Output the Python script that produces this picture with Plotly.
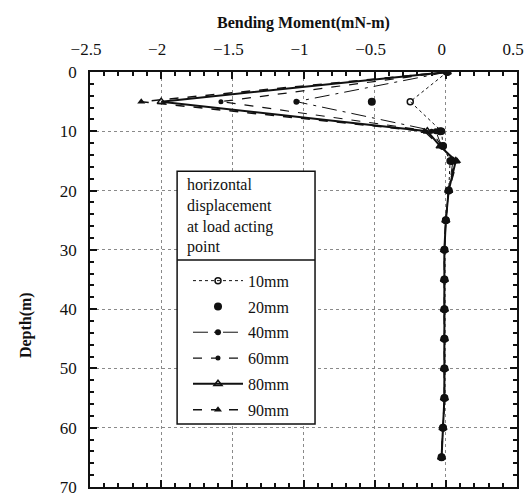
import plotly.graph_objects as go

# Depth of each measurement point along the pile (m)
depth = [0, 5, 10, 12.5, 15, 20, 25, 30, 35, 40, 45, 50, 55, 60, 65]

# Bending moment (mN-m) for each horizontal displacement at the load acting point
m_10mm = [0.01, -0.25, -0.03, -0.02, 0.03, 0.02, 0.0, -0.01, -0.01, -0.01, -0.01, -0.01, -0.01, -0.02, -0.03]
m_20mm = [0.01, -0.52, -0.04, -0.02, 0.04, 0.02, 0.0, -0.01, -0.01, -0.01, -0.01, -0.01, -0.01, -0.02, -0.03]
m_40mm = [0.01, -1.05, -0.07, -0.03, 0.05, 0.02, 0.0, -0.01, -0.01, -0.01, -0.01, -0.01, -0.01, -0.02, -0.03]
m_60mm = [0.01, -1.58, -0.10, -0.03, 0.06, 0.02, 0.0, -0.01, -0.01, -0.01, -0.01, -0.01, -0.01, -0.02, -0.03]
m_80mm = [0.01, -2.00, -0.13, -0.04, 0.07, 0.02, 0.0, -0.01, -0.01, -0.01, -0.01, -0.01, -0.01, -0.02, -0.03]
m_90mm = [0.01, -2.14, -0.15, -0.04, 0.08, 0.02, 0.0, -0.01, -0.01, -0.01, -0.01, -0.01, -0.01, -0.02, -0.03]

x_ticks = [-2.5, -2, -1.5, -1, -0.5, 0, 0.5]
y_ticks = [0, 10, 20, 30, 40, 50, 60, 70]

FONT = "Liberation Serif, Times New Roman, DejaVu Serif, serif"
INK = "#111111"

series = [
    ("10mm", m_10mm, dict(mode="lines+markers", line=dict(dash="dot", width=1),
                          marker=dict(symbol="circle-open", size=6, line=dict(width=1.5)))),
    ("20mm", m_20mm, dict(mode="markers", marker=dict(symbol="circle", size=8))),
    ("40mm", m_40mm, dict(mode="lines+markers", line=dict(dash="longdashdot", width=1),
                          marker=dict(symbol="circle", size=6))),
    ("60mm", m_60mm, dict(mode="lines+markers", line=dict(dash="dash", width=1.2),
                          marker=dict(symbol="circle", size=5))),
    ("80mm", m_80mm, dict(mode="lines+markers", line=dict(dash="solid", width=2),
                          marker=dict(symbol="triangle-up-open", size=7, line=dict(width=1.5)))),
    ("90mm", m_90mm, dict(mode="lines+markers", line=dict(dash="dash", width=1.5),
                          marker=dict(symbol="triangle-up", size=7))),
]

fig = go.Figure()
for i, (name, vals, style) in enumerate(series):
    style = dict(style)
    if "line" in style:
        style["line"] = dict(style["line"], color=INK)
    style["marker"] = dict(style["marker"], color=INK)
    fig.add_trace(go.Scatter(x=vals, y=depth, name=name, legendgroup=f"g{i}", **style))

axis_common = dict(
    showline=True, linecolor=INK, linewidth=1.5, mirror="allticks",
    ticks="inside", ticklen=7, tickcolor=INK, tickwidth=1.5,
    showgrid=True, gridcolor="#8a8a8a", griddash="dot", gridwidth=1,
    zeroline=False, automargin=False,
    tickfont=dict(family=FONT, size=17, color=INK),
)

fig.update_xaxes(
    side="top", range=[-2.5, 0.5], tickvals=x_ticks,
    minor=dict(dtick=0.1, ticks="inside", ticklen=4, tickcolor=INK, showgrid=False),
    title=dict(text="<b>Bending Moment(mN-m)</b>", font=dict(family=FONT, size=16, color=INK), standoff=8),
    ticklabelstandoff=8, ticklabelshift=-4,
    **axis_common,
)
fig.update_yaxes(
    range=[70, 0], tickvals=y_ticks,
    minor=dict(dtick=2, ticks="inside", ticklen=4, tickcolor=INK, showgrid=False),
    ticklabelstandoff=8,
    **axis_common,
)

fig.add_annotation(
    text="<b>Depth(m)</b>", textangle=-90, xref="paper", yref="paper",
    x=-0.15, y=0.39, showarrow=False, xanchor="center", yanchor="middle",
    font=dict(family=FONT, size=16, color=INK),
)

# Legend frame: white box with a rule between the heading and the entries
box_x0, box_x1 = 0.204, 0.527
box_y0, box_y1 = 0.152, 0.761
fig.add_shape(type="rect", xref="paper", yref="paper", layer="above",
              x0=box_x0, x1=box_x1, y0=box_y0, y1=box_y1,
              fillcolor="white", line=dict(color=INK, width=1.5))
fig.add_shape(type="line", xref="paper", yref="paper", layer="above",
              x0=box_x0, x1=box_x1, y0=0.547, y1=0.547,
              line=dict(color=INK, width=1.5))

# Legend heading
fig.add_annotation(
    text="horizontal<br>displacement<br>at load acting<br>point",
    xref="paper", yref="paper", x=0.222, y=0.755, xanchor="left", yanchor="top",
    align="left", showarrow=False,
    font=dict(family=FONT, size=16, color=INK),
)

fig.update_layout(
    width=527, height=500,
    margin=dict(l=90, r=10, t=72, b=13),
    paper_bgcolor="white", plot_bgcolor="white",
    showlegend=True,
    legend=dict(
        x=0.2295, y=0.538, xanchor="left", yanchor="top",
        bgcolor="rgba(0,0,0,0)", borderwidth=0,
        tracegroupgap=2, traceorder="grouped", itemwidth=50,
        font=dict(family=FONT, size=16, color=INK),
    ),
)

fig.write_html("out.html")
